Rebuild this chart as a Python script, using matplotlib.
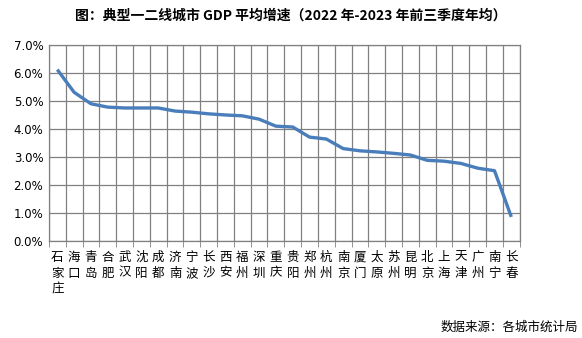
import numpy as np
import matplotlib.pyplot as plt
from matplotlib.ticker import FuncFormatter

plt.rcParams['font.family'] = ['Noto Sans CJK SC', 'DejaVu Sans']

# 城市与增速(%)
cities = ['石家庄', '海口', '青岛', '合肥', '武汉', '沈阳', '成都', '济南', '宁波', '长沙',
          '西安', '福州', '深圳', '重庆', '贵阳', '郑州', '杭州', '南京', '厦门', '太原',
          '苏州', '昆明', '北京', '上海', '天津', '广州', '南宁', '长春']
growth = [6.12, 5.31, 4.90, 4.78, 4.75, 4.75, 4.75, 4.64, 4.60, 4.54,
          4.50, 4.47, 4.35, 4.10, 4.07, 3.71, 3.64, 3.30, 3.22, 3.18,
          3.13, 3.07, 2.88, 2.85, 2.77, 2.60, 2.51, 0.86]

fig = plt.figure(figsize=(5.82, 3.38), dpi=100)
ax = fig.add_axes([0.084, 0.287, 0.809, 0.58])

x = np.arange(len(cities))
ax.plot(x, growth, color='#4a7ebb', lw=2.4, solid_capstyle='butt')

ax.set_xlim(-0.5, len(cities) - 0.5)
ax.set_ylim(0, 7)
ax.set_yticks(np.arange(0, 8, 1))
ax.yaxis.set_major_formatter(FuncFormatter(lambda v, p: '%.1f%%' % v))

# 分类边界处的竖网格
ax.set_xticks(x)
ax.set_xticklabels(['\n'.join(c) for c in cities], fontsize=9, linespacing=1.3, va='top')
ax.set_xticks(np.arange(-0.5, len(cities), 1), minor=True)
ax.tick_params(axis='x', which='major', length=0, pad=7)
ax.tick_params(axis='x', which='minor', length=4, color='#808080', direction='out')
ax.tick_params(axis='y', length=0, labelsize=8.5, pad=4)
for t in ax.get_yticklabels():
    t.set_family('DejaVu Sans')

ax.grid(True, which='minor', axis='x', color='#808080', lw=0.9)
ax.grid(True, which='major', axis='y', color='#808080', lw=0.9)
ax.set_axisbelow(True)
for s in ax.spines.values():
    s.set_color('#808080')
    s.set_linewidth(0.9)

fig.text(0.5, 0.955, '图：典型一二线城市 GDP 平均增速（2022 年-2023 年前三季度年均）',
         ha='center', va='center', fontsize=10, fontweight='bold')
fig.text(0.993, 0.032, '数据来源：各城市统计局', ha='right', va='center', fontsize=9)

fig.savefig('out.png', dpi=100)
